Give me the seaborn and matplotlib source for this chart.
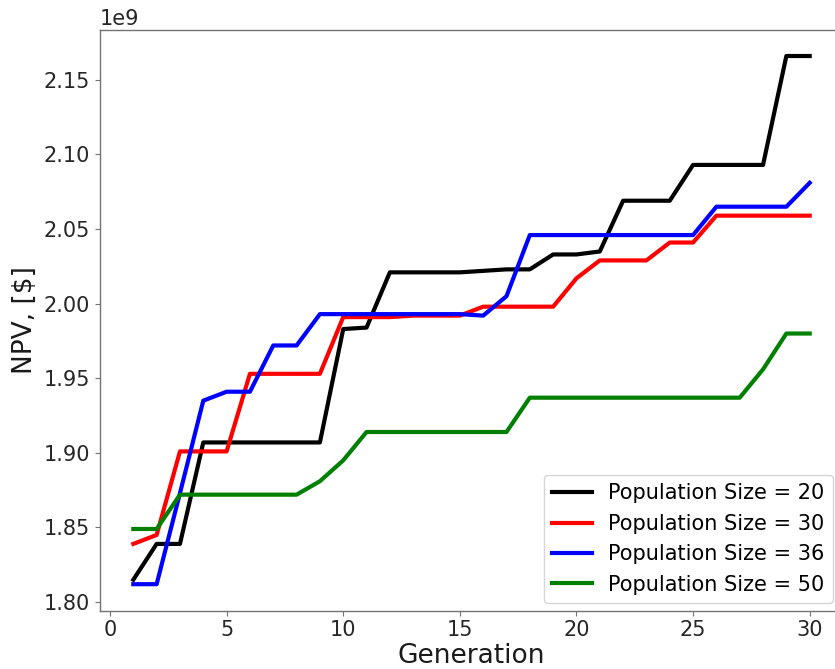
import numpy as np
import pandas as pd
import matplotlib
matplotlib.use("Agg")
import matplotlib.pyplot as plt
import seaborn as sns

generation = list(range(1, 31))
npv_pop20 = [1.815, 1.839, 1.839, 1.907, 1.907, 1.907, 1.907, 1.907, 1.907, 1.983,
             1.984, 2.021, 2.021, 2.021, 2.021, 2.022, 2.023, 2.023, 2.033, 2.033,
             2.035, 2.069, 2.069, 2.069, 2.093, 2.093, 2.093, 2.093, 2.166, 2.166]
npv_pop30 = [1.839, 1.845, 1.901, 1.901, 1.901, 1.953, 1.953, 1.953, 1.953, 1.991,
             1.991, 1.991, 1.992, 1.992, 1.992, 1.998, 1.998, 1.998, 1.998, 2.017,
             2.029, 2.029, 2.029, 2.041, 2.041, 2.059, 2.059, 2.059, 2.059, 2.059]
npv_pop36 = [1.812, 1.812, 1.873, 1.935, 1.941, 1.941, 1.972, 1.972, 1.993, 1.993,
             1.993, 1.993, 1.993, 1.993, 1.993, 1.992, 2.005, 2.046, 2.046, 2.046,
             2.046, 2.046, 2.046, 2.046, 2.046, 2.065, 2.065, 2.065, 2.065, 2.081]
npv_pop50 = [1.849, 1.849, 1.872, 1.872, 1.872, 1.872, 1.872, 1.872, 1.881, 1.895,
             1.914, 1.914, 1.914, 1.914, 1.914, 1.914, 1.914, 1.937, 1.937, 1.937,
             1.937, 1.937, 1.937, 1.937, 1.937, 1.937, 1.937, 1.956, 1.980, 1.980]

series_labels = ["Population Size = 20", "Population Size = 30",
                 "Population Size = 36", "Population Size = 50"]
series_values = [npv_pop20, npv_pop30, npv_pop36, npv_pop50]
colors = ["black", "red", "blue", "green"]

frames = []
for lab, vals in zip(series_labels, series_values):
    frames.append(pd.DataFrame({"Generation": generation,
                                "NPV": np.array(vals) * 1e9,
                                "Series": lab}))
df = pd.concat(frames, ignore_index=True)

plt.rcParams["font.family"] = ["DejaVu Sans"]

W, H = 835, 669
fig = plt.figure(figsize=(W / 100, H / 100), dpi=100)
ax = fig.add_axes([99.5 / W, 58.4 / H, 744 / W, 581 / H])

sns.lineplot(data=df, x="Generation", y="NPV", hue="Series",
             palette=dict(zip(series_labels, colors)), linewidth=3,
             ax=ax, legend=False)

for lab, c in zip(series_labels, colors):
    ax.plot([], [], color=c, linewidth=3, label=lab)

for s in ax.spines.values():
    s.set_color("0.45")
    s.set_linewidth(1.0)
ax.tick_params(labelsize=15, colors="0.45", labelcolor="0.15")
ax.yaxis.get_offset_text().set_fontsize(15)
ax.yaxis.get_offset_text().set_color("0.15")
ax.set_xlabel("Generation", fontsize=19, color="0.1", labelpad=2)
ax.set_ylabel("NPV, [$]", fontsize=19, color="0.1")
ax.set_xticks([0, 5, 10, 15, 20, 25, 30])

fig.legend(loc="lower right", bbox_to_anchor=(833 / W, (H - 603) / H),
           bbox_transform=fig.transFigure, borderaxespad=0, fontsize=15,
           handlelength=1.9)

fig.savefig("out.png", dpi=100)
